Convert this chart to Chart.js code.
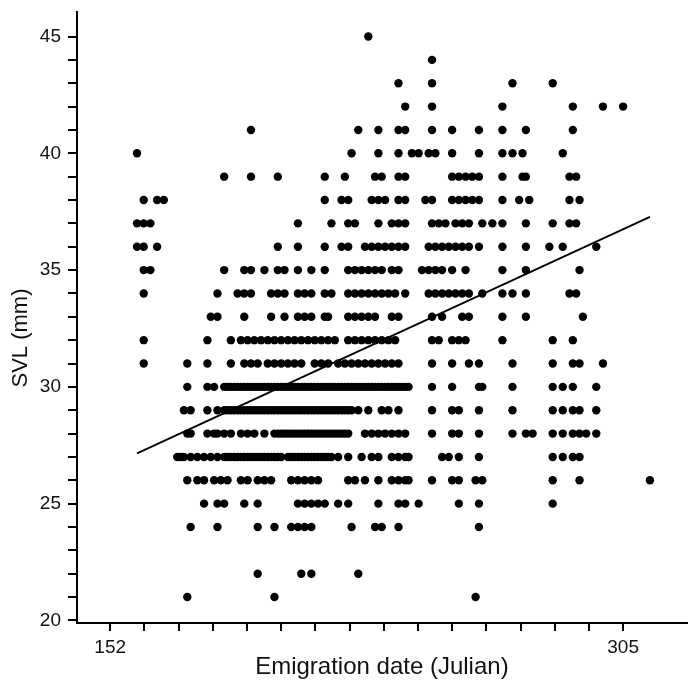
<!DOCTYPE html>
<html>
<head>
<meta charset="utf-8">
<script src="https://cdn.jsdelivr.net/npm/chart.js@4.4.1/dist/chart.umd.min.js"></script>
<style>
  html, body { margin: 0; padding: 0; background: #fff; }
  #wrap { width: 691px; height: 684px; }
</style>
</head>
<body>
<div id="wrap"><canvas id="svlChart" width="691" height="684"></canvas></div>
<script>
// emigration days (Julian) seen at each SVL value (mm)
var row45 = [229];
var row44 = [248];
var row43 = [238, 248, 272, 284];
var row42 = [240, 248, 269, 290, 299, 305];
var row41 = [194, 226, 232, 238, 240, 248, 254, 262, 269, 276, 290];
var row40 = [160, 224, 232, 238, 242, 244, 247, 249, 254, 262, 269, 272, 275, 287];
var row39 = [186, 194, 202, 216, 222, 231, 233, 238, 240, 254, 256, 258, 260, 262, 269, 275, 276, 289, 291];
var row38 = [162, 166, 168, 216, 221, 223, 230, 232, 234, 238, 240, 246, 248, 254, 256, 258, 260, 262, 269, 274, 277, 289, 292];
var row37 = [160, 162, 164, 208, 218, 223, 225, 232, 236, 238, 240, 248, 250, 252, 255, 257, 259, 263, 266, 269, 276, 284, 289, 291];
var row36 = [160, 162, 166, 202, 208, 216, 221, 223, 228, 230, 232, 234, 236, 238, 240, 247, 249, 251, 253, 255, 257, 259, 262, 269, 276, 283, 287, 297];
var row35 = [162, 164, 186, 192, 194, 198, 202, 204, 208, 212, 216, 223, 225, 227, 229, 231, 233, 236, 238, 245, 247, 249, 251, 254, 258, 269, 276, 292];
var row34 = [162, 184, 190, 192, 194, 200, 202, 204, 208, 210, 212, 216, 218, 223, 225, 227, 229, 231, 233, 235, 237, 240, 247, 249, 251, 253, 255, 257, 259, 263, 269, 272, 276, 289, 291];
var row33 = [182, 184, 192, 200, 204, 208, 210, 212, 216, 217, 223, 225, 227, 229, 231, 236, 238, 248, 251, 257, 259, 269, 276, 293];
var row32 = [162, 181, 188, 191, 193, 195, 197, 199, 201, 203, 205, 207, 209, 211, 213, 215, 217, 219, 223, 225, 227, 229, 231, 233, 235, 237, 248, 250, 254, 256, 258, 269, 284, 290];
var row31 = [162, 175, 181, 188, 192, 194, 196, 199, 201, 203, 205, 207, 209, 213, 215, 217, 220, 222, 224, 226, 228, 230, 232, 234, 236, 238, 248, 254, 259, 262, 272, 284, 290, 292, 299];
var row30 = [175, 181, 183, 186, 187, 188, 189, 190, 191, 192, 193, 194, 195, 196, 197, 198, 199, 200, 201, 202, 203, 204, 205, 206, 207, 208, 209, 210, 211, 212, 213, 214, 215, 216, 217, 218, 219, 220, 221, 222, 223, 224, 225, 226, 227, 228, 229, 230, 231, 232, 233, 234, 235, 236, 237, 238, 239, 240, 241, 248, 254, 262, 263, 272, 284, 287, 290, 297];
var row29 = [174, 176, 181, 184, 186, 187, 188, 189, 190, 191, 192, 193, 194, 195, 196, 197, 198, 199, 200, 201, 202, 203, 204, 205, 206, 207, 208, 209, 210, 211, 212, 213, 214, 215, 216, 217, 218, 219, 220, 221, 222, 223, 224, 226, 229, 233, 235, 238, 248, 254, 256, 262, 272, 284, 287, 290, 292, 297];
var row28 = [175, 176, 181, 183, 184, 186, 188, 191, 193, 195, 198, 201, 202, 203, 204, 205, 206, 207, 208, 209, 210, 211, 212, 213, 214, 215, 216, 217, 218, 219, 220, 221, 222, 223, 228, 230, 232, 234, 236, 238, 240, 248, 254, 256, 262, 272, 276, 278, 284, 287, 290, 292, 294, 297];
var row27 = [172, 173, 174, 176, 178, 180, 182, 184, 186, 187, 188, 189, 190, 191, 192, 193, 194, 195, 196, 197, 198, 199, 200, 201, 202, 203, 205, 206, 207, 208, 209, 210, 211, 212, 213, 214, 215, 216, 217, 218, 220, 223, 227, 230, 232, 236, 238, 240, 241, 251, 253, 256, 262, 284, 287, 290, 292];
var row26 = [175, 178, 180, 183, 185, 187, 191, 193, 196, 198, 200, 206, 208, 210, 212, 214, 223, 225, 228, 232, 236, 238, 240, 241, 248, 254, 256, 261, 263, 284, 292, 313];
var row25 = [180, 184, 186, 192, 196, 208, 210, 212, 214, 216, 220, 223, 232, 238, 240, 244, 256, 262, 284];
var row24 = [176, 184, 196, 201, 206, 208, 210, 212, 224, 231, 233, 238, 262];
var row23 = [];
var row22 = [196, 209, 212, 226];
var row21 = [175, 201, 261];

var svlLevels = [45, 44, 43, 42, 41, 40, 39, 38, 37, 36, 35, 34, 33, 32, 31, 30, 29, 28, 27, 26, 25, 24, 23, 22, 21];
var dayRows = [row45, row44, row43, row42, row41, row40, row39, row38, row37, row36, row35, row34, row33,
               row32, row31, row30, row29, row28, row27, row26, row25, row24, row23, row22, row21];

// fitted line end points
var fitDays = [160, 313];
var fitSvl = [27.15, 37.28];

// axis ticks
var xTickLabels = ['152', '', '', '', '', '', '', '', '', '', '', '', '', '', '', '305'];
var xFirstTick = 152, xLastTick = 305;
var yTickValues = [20, 21, 22, 23, 24, 25, 26, 27, 28, 29, 30, 31, 32, 33, 34, 35, 36, 37, 38, 39, 40, 41, 42, 43, 44, 45];
var yTitle = 'SVL (mm)';

var points = [];
svlLevels.forEach(function(mm, i) {
    dayRows[i].forEach(function(d) {
        points.push({x: d, y: mm});
    });
});

var xTickValues = xTickLabels.map(function(l, i) {
    return xFirstTick + i * (xLastTick - xFirstTick) / (xTickLabels.length - 1);
});

var FONT = "'Liberation Sans', Arial, sans-serif";

// y title sits a bit below the middle of the plot, so draw it by hand
var yTitlePlugin = {
    id: 'yTitle',
    afterDraw: function(chart) {
        var c = chart.ctx;
        c.save();
        c.translate(21, 338);
        c.rotate(-Math.PI / 2);
        c.fillStyle = '#111';
        c.font = '22px ' + FONT;
        c.textAlign = 'center';
        c.textBaseline = 'middle';
        c.fillText(yTitle, 0, 0);
        c.restore();
    }
};

var config = {
    type: 'scatter',
    data: {
        datasets: [{
            data: points,
            backgroundColor: '#000',
            borderWidth: 0,
            pointRadius: 4.2,
            pointHoverRadius: 4.2
        }, {
            type: 'line',
            data: [{x: fitDays[0], y: fitSvl[0]}, {x: fitDays[1], y: fitSvl[1]}],
            borderColor: '#000',
            borderWidth: 1.8,
            pointRadius: 0,
            fill: false
        }]
    },
    options: {
        responsive: false,
        animation: false,
        layout: { padding: { top: 12, right: 3, left: 0, bottom: 0 } },
        plugins: {
            legend: { display: false },
            tooltip: { enabled: false }
        },
        scales: {
            x: {
                type: 'linear',
                min: 142.1,
                max: 324,
                afterBuildTicks: function(scale) {
                    scale.ticks = xTickValues.map(function(v) { return {value: v}; });
                },
                afterFit: function(scale) {
                    scale.height = 61;
                    scale.paddingLeft = 0;
                    scale.paddingRight = 0;
                },
                ticks: {
                    autoSkip: false,
                    maxRotation: 0,
                    padding: 5,
                    color: '#111',
                    font: { family: FONT, size: 19 },
                    callback: function(value, index) { return xTickLabels[index]; }
                },
                grid: { drawOnChartArea: false, drawTicks: true, tickLength: 8, color: '#000', lineWidth: 2 },
                border: { display: true, color: '#000', width: 2 },
                title: {
                    display: true,
                    text: 'Emigration date (Julian)',
                    color: '#111',
                    font: { family: FONT, size: 24 },
                    padding: { top: 0, bottom: 2 }
                }
            },
            y: {
                type: 'linear',
                min: 19.89,
                max: 46.05,
                afterBuildTicks: function(scale) {
                    scale.ticks = yTickValues.map(function(v) { return {value: v}; });
                },
                afterFit: function(scale) {
                    scale.width = 77;
                    scale.paddingTop = 0;
                    scale.paddingBottom = 0;
                },
                ticks: {
                    autoSkip: false,
                    padding: 7,
                    color: '#111',
                    font: { family: FONT, size: 19 },
                    callback: function(value) { return value % 5 === 0 ? String(value) : ''; }
                },
                grid: { drawOnChartArea: false, drawTicks: true, tickLength: 9, color: '#000', lineWidth: 2 },
                border: { display: true, color: '#000', width: 2 }
            }
        }
    },
    plugins: [yTitlePlugin]
};

var ctx = document.getElementById('svlChart');
window.myChart = new Chart(ctx, config);
</script>
</body>
</html>
